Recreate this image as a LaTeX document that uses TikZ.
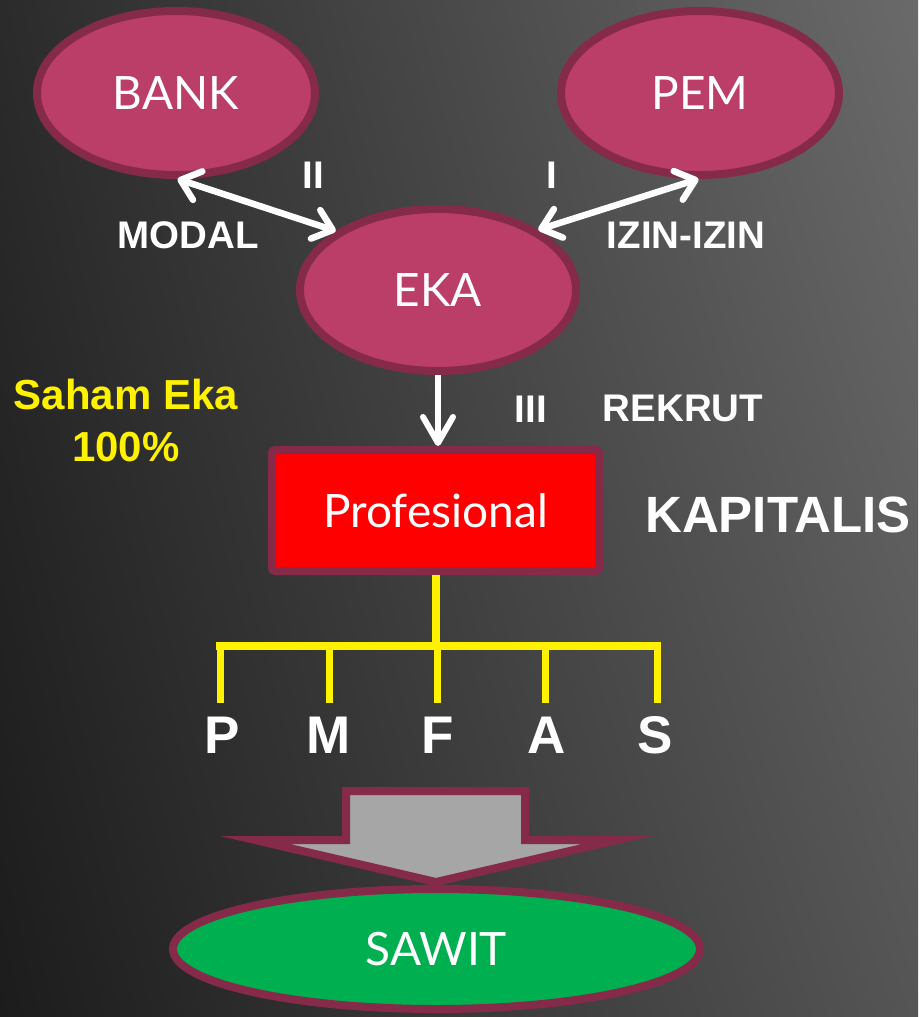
\documentclass[tikz,border=0pt]{standalone}
\usepackage{fontspec}
\setmainfont{Liberation Sans}
\newfontfamily\ellfont{Lato}
\usetikzlibrary{arrows.meta,shapes.geometric,shadings}
\definecolor{ellfill}{HTML}{BA3E68}
\definecolor{ellborder}{HTML}{862A4A}
\definecolor{bgUL}{HTML}{2B2B2B}
\definecolor{bgUR}{HTML}{6A6A6A}
\definecolor{bgLL}{HTML}{1C1C1C}
\definecolor{bgLR}{HTML}{555555}
\definecolor{greenfill}{HTML}{00B050}
\definecolor{arrowgrey}{HTML}{A6A6A6}
\begin{document}
\begin{tikzpicture}[x=1pt,y=-1pt,
  ellnode/.style={ellipse,draw=ellborder,line width=8pt,fill=ellfill,inner sep=0pt,
    minimum width=278pt,minimum height=164pt,text=white,font=\ellfont\fontsize{46}{50}\selectfont},
  lbl/.style={text=white,font=\bfseries\fontsize{38.5}{42}\selectfont,inner sep=0pt},
  letter/.style={text=white,font=\bfseries\fontsize{53}{56}\selectfont,inner sep=0pt,anchor=base},
  wharrow/.style={draw=white,line width=6.5pt,{Straight Barb[length=18pt,width=30pt,round]}-{Straight Barb[length=18pt,width=30pt,round]}},
  downarrow/.style={draw=white,line width=6pt,-{Straight Barb[length=26pt,width=30pt,round]}},
  yline/.style={draw=yellow,line width=8pt}]
\useasboundingbox (0,0) rectangle (918,1017);
\shade[upper left=bgUL,upper right=bgUR,lower left=bgLL,lower right=bgLR] (0,0) rectangle (918,1017);

% ellipses
\node[ellnode] (bank) at (176,93) {BANK};
\node[ellnode] (pem) at (700,93) {PEM};
\node[ellnode,minimum width=276pt,minimum height=162pt] (eka) at (438,290) {EKA};

% Profesional box
\node[draw=ellborder,line width=8pt,fill=red,rounded corners=3pt,minimum width=327pt,minimum height=121pt,
  inner sep=0pt,text=white,font=\ellfont\fontsize{46}{50}\selectfont] (prof) at (435.5,510.5) {Profesional};

% arrows
\draw[wharrow] (bank.-89) -- (eka.150);
\draw[wharrow] (pem.-91) -- (eka.31);
\draw[downarrow] (eka.south) -- (eka.south |- prof.north);

% labels
\node[lbl] (ii) at (313,175) {II};
\node[lbl] (i) at (552,175) {I};
\node[lbl] (modal) at (188,235) {MODAL};
\node[lbl] (izin) at (686,235) {IZIN-IZIN};
\node[lbl] (iii) at (531,409) {III};
\node[lbl] (rekrut) at (683,408) {REKRUT};
\node[text=white,font=\bfseries\fontsize{51}{54}\selectfont,inner sep=0pt] (kap) at (778,515) {KAPITALIS};
\node[text=yellow,font=\bfseries\fontsize{42}{52}\selectfont,align=center,inner sep=0pt] (saham) at (126,420) {Saham Eka\\100\%};

% letters
\node[letter] (p) at (222,753) {P};
\node[letter] (m) at (329,753) {M};
\node[letter] (f) at (438,753) {F};
\node[letter] (a) at (547,753) {A};
\node[letter] (s) at (655,753) {S};

% yellow tree
\coordinate (bar) at (437,646);
\coordinate (bl) at (216,646);
\coordinate (br) at (661,646);
\draw[yline] (prof.south) -- (prof.south |- bar);
\draw[yline] (bl) -- (br);
\foreach \n/\x in {p/220,m/329,f/437,a/545,s/657}{
  \coordinate (\n top) at (\x,646);
  \coordinate (\n bot) at (\x,703);
  \draw[draw=yellow,line width=7pt] (\n top) -- (\n bot);
}

% big grey arrow
\draw[draw=ellborder,line width=8pt,fill=arrowgrey,miter limit=12]
  (346,791) -- (525,791) -- (525,840) -- (617,840) -- (436,882) -- (255,840) -- (346,840) -- cycle;

% SAWIT
\node[ellipse,draw=ellborder,line width=8pt,fill=greenfill,inner sep=0pt,minimum width=527pt,minimum height=120pt,
  text=white,font=\ellfont\fontsize{46}{50}\selectfont] (sawit) at (436.5,949) {SAWIT};
\end{tikzpicture}
\end{document}
